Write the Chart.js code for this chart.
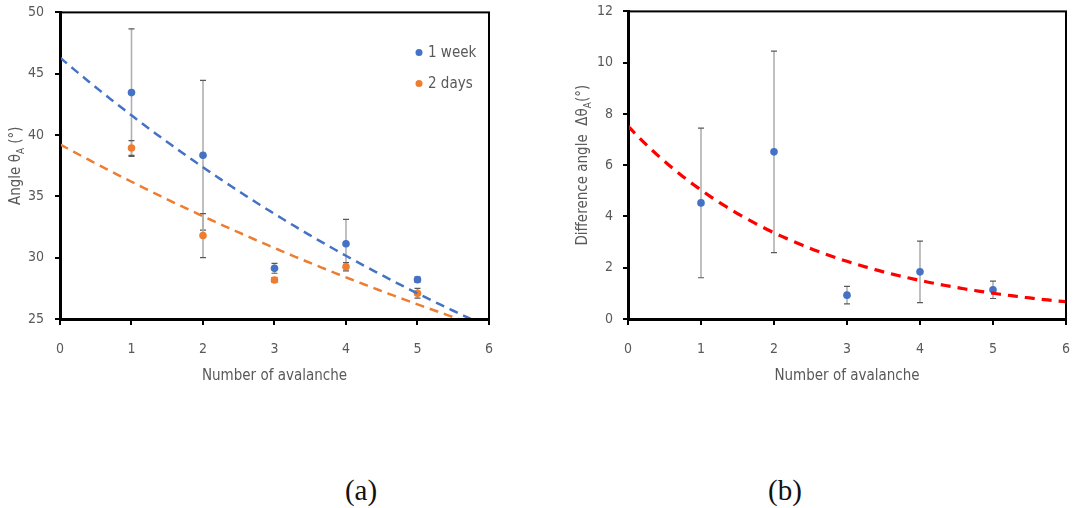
<!DOCTYPE html>
<html>
<head>
<meta charset="utf-8">
<script src="https://cdn.jsdelivr.net/npm/chart.js@4.4.1/dist/chart.umd.min.js"></script>
<style>
  html, body { margin: 0; padding: 0; background: #ffffff; }
  #wrap { position: relative; width: 1073px; height: 508px; background: #ffffff; overflow: hidden; }
  canvas { position: absolute; }
  .caption { position: absolute; font-family: 'Liberation Serif', 'DejaVu Serif', serif; font-size: 29px;
             color: #111; transform: translate(-50%, -50%); line-height: 1; white-space: nowrap; }
</style>
</head>
<body>
<div id="wrap">
  <canvas id="angleChart" width="509" height="407" style="left:0px; top:-7px"></canvas>
  <canvas id="diffChart" width="526" height="407" style="left:560px; top:-7px"></canvas>
  <div class="caption" style="left:361px; top:490px">(a)</div>
  <div class="caption" style="left:785px; top:490px">(b)</div>
</div>
<script>
// Measured angles per avalanche number
const avalancheNumbers = [1, 2, 3, 4, 5];
const angleOneWeek     = [43.46, 38.35, 29.13, 31.13, 28.21];
const errOneWeek       = [5.2, 6.1, 0.4, 2.0, 0.2];
const angleTwoDays     = [38.94, 31.8, 28.18, 29.26, 27.1];
const errTwoDays       = [0.6, 1.8, 0.2, 0.34, 0.4];
const angleDifference  = [4.53, 6.52, 0.93, 1.84, 1.14];
const errDifference    = [2.92, 3.93, 0.34, 1.2, 0.34];

// Axis ticks
const avalancheTicks = [0, 1, 2, 3, 4, 5, 6];
const angleTicks     = [25, 30, 35, 40, 45, 50];
const diffTicks      = [0, 2, 4, 6, 8, 10, 12];

const seriesLabels = ['1 week', '2 days'];
const BLUE = '#4472C4', ORANGE = '#ED7D31', RED = '#FF0000', GREY_TEXT = '#595959';
const SANS = "'Liberation Sans Narrow', 'DejaVu Sans Condensed', 'Open Sans', sans-serif";

// Exponential trendline y = a·e^(b·x), least squares on ln(y)
function expFit(xs, ys) {
  const n = xs.length;
  const ly = ys.map(Math.log);
  const mx = xs.reduce((s, v) => s + v, 0) / n;
  const my = ly.reduce((s, v) => s + v, 0) / n;
  let sxy = 0, sxx = 0;
  for (let i = 0; i < n; i++) { sxy += (xs[i] - mx) * (ly[i] - my); sxx += (xs[i] - mx) ** 2; }
  const b = sxy / sxx;
  return { a: Math.exp(my - b * mx), b };
}
function trendCurve(fit, x0, x1) {
  const pts = [];
  for (let k = 0; k <= 120; k++) {
    const x = x0 + (x1 - x0) * k / 120;
    pts.push({ x, y: fit.a * Math.exp(fit.b * x) });
  }
  return pts;
}
const toPoints = (xs, ys) => xs.map((x, i) => ({ x, y: ys[i] }));

// Error bars drawn under the markers
function errorBarPlugin(sets) {
  return {
    id: 'errorBars',
    beforeDatasetsDraw(chart) {
      const { ctx, scales: { x, y } } = chart;
      ctx.save();
      sets.forEach(({ xs, ys, errs }) => {
        xs.forEach((xv, i) => {
          const px = x.getPixelForValue(xv);
          const top = y.getPixelForValue(ys[i] + errs[i]);
          const bot = y.getPixelForValue(ys[i] - errs[i]);
          ctx.strokeStyle = '#b0b0b0';
          ctx.lineWidth = 1.6;
          ctx.beginPath(); ctx.moveTo(px, top); ctx.lineTo(px, bot); ctx.stroke();
          ctx.strokeStyle = '#595959';
          ctx.lineWidth = 1.2;
          ctx.beginPath();
          ctx.moveTo(px - 3, top); ctx.lineTo(px + 3, top);
          ctx.moveTo(px - 3, bot); ctx.lineTo(px + 3, bot);
          ctx.stroke();
        });
      });
      ctx.restore();
    }
  };
}

// Black frame round the plot area
const framePlugin = {
  id: 'frame',
  afterDraw(chart) {
    const { ctx, chartArea: a } = chart;
    ctx.save();
    ctx.strokeStyle = '#000';
    ctx.lineWidth = 2;
    ctx.strokeRect(a.left, a.top, a.right - a.left, a.bottom - a.top);
    ctx.restore();
  }
};

// Rotated y-axis title with a subscript part
function yTitlePlugin(parts, cx) {
  return {
    id: 'yTitle',
    afterDraw(chart) {
      const { ctx, chartArea: a } = chart;
      const main = '15px ' + SANS, sub = '10px ' + SANS;
      ctx.save();
      ctx.translate(cx, (a.top + a.bottom) / 2);
      ctx.rotate(-Math.PI / 2);
      ctx.fillStyle = GREY_TEXT;
      ctx.textBaseline = 'middle';
      ctx.textAlign = 'left';
      let total = 0;
      parts.forEach(p => { ctx.font = p.sub ? sub : main; total += ctx.measureText(p.t).width; });
      let xpos = -total / 2;
      parts.forEach(p => {
        ctx.font = p.sub ? sub : main;
        ctx.fillText(p.t, xpos, p.sub ? 5 : 0);
        xpos += ctx.measureText(p.t).width;
      });
      ctx.restore();
    }
  };
}

// Legend inside the plot area, top right
const legendPlugin = {
  id: 'cornerLegend',
  afterDraw(chart) {
    const { ctx, chartArea: a } = chart;
    const rows = [{ label: seriesLabels[0], color: BLUE, dy: 40 }, { label: seriesLabels[1], color: ORANGE, dy: 71 }];
    ctx.save();
    ctx.font = '15px ' + SANS;
    ctx.textBaseline = 'middle';
    ctx.textAlign = 'left';
    rows.forEach(r => {
      const y = a.top + r.dy;
      ctx.fillStyle = r.color;
      ctx.beginPath(); ctx.arc(419, y, 3.5, 0, Math.PI * 2); ctx.fill();
      ctx.fillStyle = GREY_TEXT;
      ctx.fillText(r.label, 428, y + 1);
    });
    ctx.restore();
  }
};

function axes(xTicks, yTicks, yAxisWidth, yPad) {
  const tickFont = { family: SANS, size: 14 };
  return {
    x: {
      type: 'linear', min: xTicks[0], max: xTicks[xTicks.length - 1],
      ticks: { stepSize: xTicks[1] - xTicks[0], color: GREY_TEXT, font: tickFont, padding: 16 },
      grid: { display: true, drawOnChartArea: false, drawTicks: true, tickLength: 6, tickColor: '#000', lineWidth: 2 },
      border: { display: true, color: '#000', width: 3 },
      title: { display: true, text: 'Number of avalanche', color: GREY_TEXT, font: { family: SANS, size: 15 }, padding: { top: 0, bottom: 15 } },
      afterFit(s) { s.height = 81; }
    },
    y: {
      type: 'linear', min: yTicks[0], max: yTicks[yTicks.length - 1],
      ticks: { stepSize: yTicks[1] - yTicks[0], color: GREY_TEXT, font: tickFont, padding: yPad },
      grid: { display: true, drawOnChartArea: false, drawTicks: true, tickLength: 5, tickColor: '#000', lineWidth: 2 },
      border: { display: true, color: '#000', width: 3 },
      afterFit(s) { s.width = yAxisWidth; }
    }
  };
}

const common = {
  responsive: false, animation: false, devicePixelRatio: 1,
  plugins: { legend: { display: false }, tooltip: { enabled: false } },
  elements: { point: { borderWidth: 0 } }
};

const fitWeek = expFit(avalancheNumbers, angleOneWeek);
const fitDays = expFit(avalancheNumbers, angleTwoDays);
const fitDiff = expFit(avalancheNumbers, angleDifference);

new Chart(document.getElementById('angleChart'), {
  type: 'scatter',
  data: {
    datasets: [
      { label: 'trend 1 week', type: 'line', data: trendCurve(fitWeek, 0, 6), borderColor: BLUE, borderWidth: 2.5,
        borderDash: [9, 6], pointRadius: 0, fill: false, order: 0 },
      { label: 'trend 2 days', type: 'line', data: trendCurve(fitDays, 0, 6), borderColor: ORANGE, borderWidth: 2.5,
        borderDash: [9, 6], pointRadius: 0, fill: false, order: 1 },
      { label: seriesLabels[0], data: toPoints(avalancheNumbers, angleOneWeek), backgroundColor: BLUE, pointRadius: 3.8, order: 2 },
      { label: seriesLabels[1], data: toPoints(avalancheNumbers, angleTwoDays), backgroundColor: ORANGE, pointRadius: 3.8, order: 3 }
    ]
  },
  options: Object.assign({}, common, {
    layout: { padding: { top: 4, right: 4, left: 0, bottom: 0 } },
    scales: axes(avalancheTicks, angleTicks, 60, 11)
  }),
  plugins: [
    errorBarPlugin([
      { xs: avalancheNumbers, ys: angleOneWeek, errs: errOneWeek },
      { xs: avalancheNumbers, ys: angleTwoDays, errs: errTwoDays }
    ]),
    framePlugin, legendPlugin,
    yTitlePlugin([{ t: 'Angle θ' }, { t: 'A', sub: true }, { t: ' (°)' }], 16)
  ]
});

new Chart(document.getElementById('diffChart'), {
  type: 'scatter',
  data: {
    datasets: [
      { label: 'trend difference', type: 'line', data: trendCurve(fitDiff, 0, 6), borderColor: RED, borderWidth: 3.2,
        borderDash: [10, 7], pointRadius: 0, fill: false, order: 0 },
      { label: 'difference', data: toPoints(avalancheNumbers, angleDifference), backgroundColor: BLUE, pointRadius: 3.8, order: 1 }
    ]
  },
  options: Object.assign({}, common, {
    layout: { padding: { top: 4, right: 0, left: 0, bottom: 0 } },
    scales: axes(avalancheTicks, diffTicks, 68, 10)
  }),
  plugins: [
    errorBarPlugin([{ xs: avalancheNumbers, ys: angleDifference, errs: errDifference }]),
    framePlugin,
    yTitlePlugin([{ t: 'Difference angle  Δθ' }, { t: 'A', sub: true }, { t: '(°)' }], 23)
  ]
});
</script>
</body>
</html>
